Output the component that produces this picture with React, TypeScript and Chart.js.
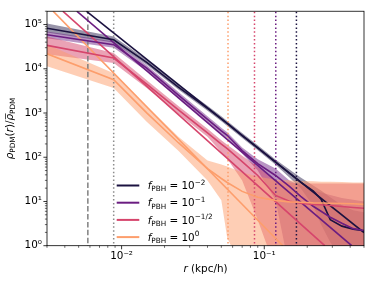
import React, { useEffect, useRef } from "react";
import { Chart, registerables } from "chart.js";

Chart.register(...registerables);

const FONT = '"DejaVu Sans", sans-serif';
const FS = 10.4;

// radius grid (kpc/h)
const R = [0.003, 0.0088, 0.015, 0.025, 0.04, 0.05, 0.055, 0.07, 0.09, 0.12, 0.15, 0.18, 0.22, 0.25, 0.29, 0.35, 0.42, 0.5];

// f_PBH = 1e-2
const DARK_MID = [82600, 45400, 14000, 3855, 1275, 740, 580, 310, 163, 77.7, 43.8, 27.3, 17.4, 11.2, 3.88, 2.77, 2.37, 2.17];
const DARK_HI = [105000, 53800, 16000, 4400, 1455, 844, 660, 353, 186, 88.6, 52.6, 34.8, 23, 17.8, 12.4, 8.2, 6.3, 5.7];
const DARK_LO = [66100, 39400, 12300, 3380, 1120, 649, 509, 272, 143, 68, 34.8, 20, 8, 3, 1.2, 0.5, 0.3, 0.3];

// f_PBH = 1e-1
const PURPLE_MID = [58700, 35000, 10300, 2546, 718, 396, 314, 141, 71.9, 38.7, 21.9, 13.1, 7.8, 6.0, 4.41, 3.23, 2.43, 2.2];
const PURPLE_HI = [69600, 41500, 12050, 2980, 840, 463, 367, 165, 90, 55.7, 29.9, 23.1, 17.8, 16, 14, 12, 11, 10];
const PURPLE_LO = [49200, 29700, 8800, 2176, 614, 338, 268, 120, 50, 10.6, 0.3, 0.3, 0.3, 0.3, 0.3, 0.3, 0.3, 0.3];

// f_PBH = 10^-1/2
const PINK_MID = [33800, 17500, 4500, 1172, 357, 197, 156, 79.8, 38.7, 13.7, 10.1, 9.1, 8.6, 8.4, 8.1, 7.7, 7.3, 7.0];
const PINK_HI = [53800, 22700, 5540, 1440, 440, 242, 192, 108, 60, 29.9, 27, 25.5, 25.5, 25.5, 25.5, 25.5, 25.5, 25.5];
const PINK_LO = [21200, 13500, 3660, 953, 290, 130, 93, 29.9, 3.8, 0.3, 0.3, 0.3, 0.3, 0.3, 0.3, 0.3, 0.3, 0.3];

// f_PBH = 1
const ORANGE_MID = [21800, 5680, 1004, 213, 55.5, 33.1, 26.9, 16.9, 12.4, 10.6, 9.8, 9.6, 9.3, 9.2, 9.1, 9.0, 8.9, 8.6];
const ORANGE_HI = [35500, 7940, 1440, 290, 84, 68.3, 61.6, 45, 36.7, 31, 30, 29, 28.5, 28, 28, 27.5, 27, 27];
const ORANGE_LO = [11400, 3656, 631, 141, 29.9, 10.6, 1.5, 0.3, 0.3, 0.3, 0.3, 0.3, 0.3, 0.3, 0.3, 0.3, 0.3, 0.3];

// analytic power laws (two end points each)
const FIT_DARK_R = [0.00566, 0.5];
const FIT_DARK = [201000, 1.98];
const FIT_PURPLE_R = [0.00485, 0.41];
const FIT_PURPLE = [201000, 1];
const FIT_PINK_R = [0.00387, 0.2655];
const FIT_PINK = [201000, 1];
const FIT_ORANGE_R = [0.00331, 0.1348];
const FIT_ORANGE = [201000, 1];

// vertical reference radii
const GRAY_DASHED_R = 0.0058;
const GRAY_DOTTED_R = 0.0088;
const RVIR = [0.168, 0.1204, 0.0854, 0.0557];

const COLORS = ["#1b1240", "#6b1d81", "#d6456c", "#fd9e6c"];
const BAND_ALPHA = ["73", "78", "80", "80"];
const LEGEND_EXP = ["\u22122", "\u22121", "\u22121/2", "0"];

const X_MIN = 0.003, X_MAX = 0.5, Y_MIN = 1, Y_MAX = 2e5;
const X_TICKS = [0.01, 0.1];
const X_TICK_LABELS = ["10\u207B\u00B2", "10\u207B\u00B9"];
const Y_TICKS = [1, 10, 100, 1000, 1e4, 1e5];
const Y_TICK_LABELS = ["10\u2070", "10\u00B9", "10\u00B2", "10\u00B3", "10\u2074", "10\u2075"];

const pts = (xs: number[], ys: number[]) => xs.map((x, i) => ({ x, y: ys[i] }));

function labelFor(v: number, ticks: number[], labels: string[]) {
  let best = 0, bd = Infinity;
  ticks.forEach((t, i) => {
    const d = Math.abs(Math.log10(t) - Math.log10(v));
    if (d < bd) { bd = d; best = i; }
  });
  return labels[best];
}

type Part = [string, string];

function drawRich(ctx: CanvasRenderingContext2D, parts: Part[], x: number, y: number, size: number, align = "left") {
  const fontFor = (k: string) => {
    const s = k === "sub" || k === "sup" ? size * 0.7 : size;
    const it = k === "i" || k === "ibar" ? "italic " : "";
    return `${it}${s}px ${FONT}`;
  };
  let total = 0;
  const widths = parts.map(([t, k]) => {
    ctx.font = fontFor(k);
    const w = ctx.measureText(t).width;
    total += w;
    return w;
  });
  let cx = align === "center" ? x - total / 2 : align === "right" ? x - total : x;
  ctx.textAlign = "left";
  ctx.textBaseline = "alphabetic";
  parts.forEach(([t, k], i) => {
    ctx.font = fontFor(k);
    let dy = 0;
    if (k === "sub") dy = 0.22 * size;
    if (k === "sup") dy = -0.42 * size;
    ctx.fillText(t, cx, y + dy);
    if (k === "ibar") {
      ctx.save();
      ctx.lineWidth = 0.7;
      ctx.beginPath();
      ctx.moveTo(cx + 0.12 * size, y - 0.72 * size);
      ctx.lineTo(cx + widths[i] + 0.05 * size, y - 0.72 * size);
      ctx.stroke();
      ctx.restore();
    }
    cx += widths[i];
  });
}

const decor = {
  id: "decor",
  afterDraw(chart: any) {
    const { ctx, chartArea: a } = chart;
    const xs = chart.scales.x, ys = chart.scales.y;
    ctx.save();
    ctx.strokeStyle = "#000";
    ctx.fillStyle = "#000";
    // x ticks
    for (let d = -3; d <= 0; d++) {
      for (let k = 1; k <= 9; k++) {
        const v = k * Math.pow(10, d);
        if (v < X_MIN * 0.999 || v > X_MAX * 1.001) continue;
        const px = xs.getPixelForValue(v);
        const len = k === 1 ? 3.6 : 2.1;
        ctx.lineWidth = k === 1 ? 0.8 : 0.6;
        ctx.beginPath();
        ctx.moveTo(px, a.bottom);
        ctx.lineTo(px, a.bottom + len);
        ctx.stroke();
      }
    }
    // y ticks
    for (let d = 0; d <= 5; d++) {
      for (let k = 1; k <= 9; k++) {
        const v = k * Math.pow(10, d);
        if (v < Y_MIN * 0.999 || v > Y_MAX * 1.001) continue;
        const py = ys.getPixelForValue(v);
        const len = k === 1 ? 3.6 : 2.1;
        ctx.lineWidth = k === 1 ? 0.8 : 0.6;
        ctx.beginPath();
        ctx.moveTo(a.left, py);
        ctx.lineTo(a.left - len, py);
        ctx.stroke();
      }
    }
    // frame
    ctx.lineWidth = 0.8;
    ctx.strokeRect(a.left, a.top, a.right - a.left, a.bottom - a.top);

    // legend
    const lx0 = 116.7, lx1 = 139.3, tx = 147.7, ly0 = 185.5, ldy = 17.2;
    COLORS.forEach((c, i) => {
      const yy = ly0 + i * ldy;
      ctx.strokeStyle = c;
      ctx.lineWidth = 2;
      ctx.beginPath();
      ctx.moveTo(lx0, yy);
      ctx.lineTo(lx1, yy);
      ctx.stroke();
      ctx.fillStyle = "#000";
      ctx.strokeStyle = "#000";
      drawRich(ctx, [["f", "i"], ["PBH", "sub"], [" = 10", "n"], [LEGEND_EXP[i], "sup"]], tx, yy + 3.6, FS);
    });

    // x title
    ctx.fillStyle = "#000";
    ctx.strokeStyle = "#000";
    drawRich(ctx, [["r", "i"], [" (kpc/h)", "n"]], (a.left + a.right) / 2, 272, FS, "center");

    // y title
    ctx.save();
    ctx.translate(13, (a.top + a.bottom) / 2);
    ctx.rotate(-Math.PI / 2);
    drawRich(ctx, [["\u03C1", "i"], ["PDM", "sub"], ["(", "n"], ["r", "i"], [")/", "n"], ["\u03C1", "ibar"], ["PDM", "sub"]], 0, 0, FS, "center");
    ctx.restore();

    ctx.restore();
  },
};

export default function App() {
  const ref = useRef<HTMLCanvasElement>(null);
  useEffect(() => {
    if (!ref.current) return;
    const bands: [number[], number[], string][] = [
      [DARK_HI, DARK_LO, COLORS[0]],
      [PURPLE_HI, PURPLE_LO, COLORS[1]],
      [PINK_HI, PINK_LO, COLORS[2]],
      [ORANGE_HI, ORANGE_LO, COLORS[3]],
    ];
    const mids = [DARK_MID, PURPLE_MID, PINK_MID, ORANGE_MID];
    const fits: [number[], number[]][] = [
      [FIT_DARK_R, FIT_DARK],
      [FIT_PURPLE_R, FIT_PURPLE],
      [FIT_PINK_R, FIT_PINK],
      [FIT_ORANGE_R, FIT_ORANGE],
    ];
    const datasets: any[] = [];
    bands.forEach(([hi, lo, c], i) => {
      datasets.push({
        data: pts(R, hi), borderWidth: 0, pointRadius: 0, fill: "+1",
        backgroundColor: c + BAND_ALPHA[i], borderColor: "transparent", order: 40 - i,
      });
      datasets.push({
        data: pts(R, lo), borderWidth: 0, pointRadius: 0, fill: false,
        borderColor: "transparent", order: 40 - i,
      });
    });
    // vertical reference lines
    datasets.push({
      data: [{ x: GRAY_DASHED_R, y: Y_MIN * 0.5 }, { x: GRAY_DASHED_R, y: Y_MAX * 2 }],
      borderColor: "#808080", borderWidth: 1.5, borderDash: [5.5, 2.4], pointRadius: 0, fill: false, order: 10,
    });
    datasets.push({
      data: [{ x: GRAY_DOTTED_R, y: Y_MIN * 0.5 }, { x: GRAY_DOTTED_R, y: Y_MAX * 2 }],
      borderColor: "#8c8c8c", borderWidth: 1.5, borderDash: [1.5, 2.4], pointRadius: 0, fill: false, order: 10,
    });
    RVIR.forEach((rv, i) => {
      datasets.push({
        data: [{ x: rv, y: Y_MIN * 0.5 }, { x: rv, y: Y_MAX * 2 }],
        borderColor: COLORS[i], borderWidth: 1.5, borderDash: [1.5, 2.4], pointRadius: 0, fill: false, order: 10,
      });
    });
    fits.forEach(([rr, yy], i) => {
      datasets.push({
        data: pts(rr, yy), borderColor: COLORS[i], borderWidth: 1.6, pointRadius: 0, fill: false, order: 5,
      });
    });
    mids.forEach((m, i) => {
      datasets.push({
        data: pts(R, m), borderColor: COLORS[i], borderWidth: 1.6, pointRadius: 0, fill: false, order: 4 - i,
      });
    });

    const chart = new Chart(ref.current, {
      type: "line",
      data: { datasets },
      plugins: [decor],
      options: {
        animation: false,
        responsive: false,
        devicePixelRatio: 1,
        layout: { padding: { top: 9.5, right: 10, left: 0, bottom: 0 } },
        plugins: { legend: { display: false }, tooltip: { enabled: false } },
        elements: { point: { radius: 0 }, line: { tension: 0 } },
        scales: {
          x: {
            type: "logarithmic",
            min: X_MIN,
            max: X_MAX,
            grid: { display: false, drawTicks: false },
            border: { display: false },
            afterBuildTicks: (s: any) => { s.ticks = X_TICKS.map((v) => ({ value: v })); },
            afterFit: (s: any) => { s.height = 38.3; },
            ticks: {
              callback: (v: any) => labelFor(Number(v), X_TICKS, X_TICK_LABELS),
              font: { family: FONT, size: FS },
              color: "#000",
              padding: 4,
              maxRotation: 0,
              autoSkip: false,
            },
          },
          y: {
            type: "logarithmic",
            min: Y_MIN,
            max: Y_MAX,
            grid: { display: false, drawTicks: false },
            border: { display: false },
            afterBuildTicks: (s: any) => { s.ticks = Y_TICKS.map((v) => ({ value: v })); },
            afterFit: (s: any) => { s.width = 47; },
            ticks: {
              callback: (v: any) => labelFor(Number(v), Y_TICKS, Y_TICK_LABELS),
              font: { family: FONT, size: FS },
              color: "#000",
              padding: 5,
              autoSkip: false,
            },
          },
        },
      } as any,
    });
    return () => chart.destroy();
  }, []);
  return (
    <div style={{ position: "absolute", left: 0, top: 0, width: 374, height: 284, background: "#fff" }}>
      <canvas ref={ref} width={374} height={284} style={{ width: 374, height: 284, display: "block" }} />
    </div>
  );
}
